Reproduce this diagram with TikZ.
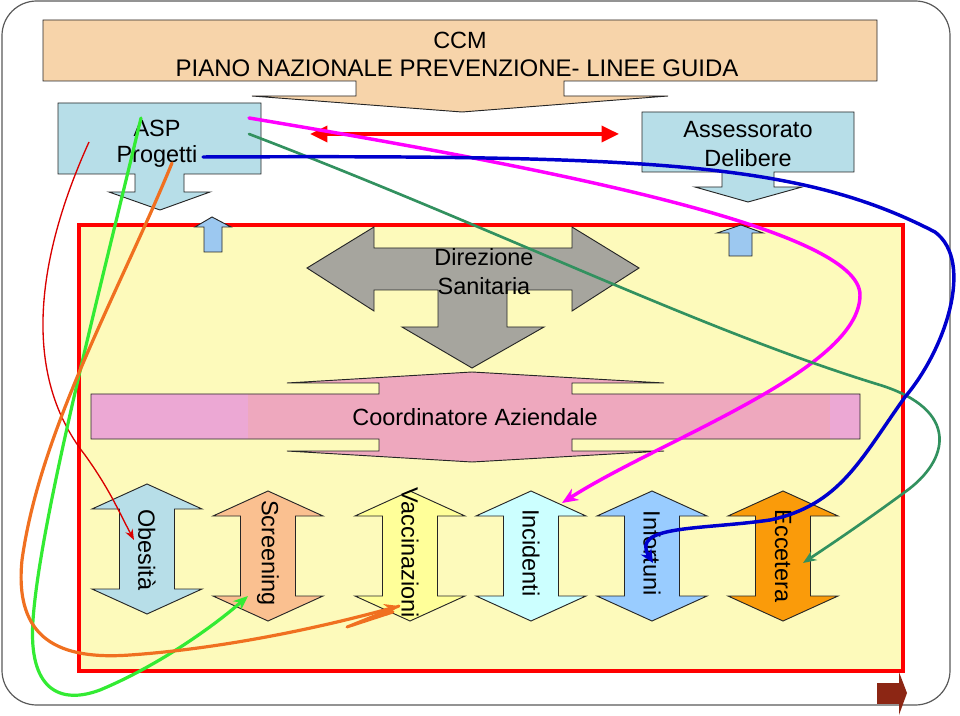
\documentclass[tikz,border=0pt]{standalone}
\usepackage{fontspec}
\setmainfont{Liberation Sans}
\usetikzlibrary{arrows.meta}
\definecolor{peach}{RGB}{247,212,170}
\definecolor{boxblue}{RGB}{183,222,232}
\definecolor{yellowbg}{RGB}{253,250,187}
\definecolor{upblue}{RGB}{156,200,240}
\definecolor{dirgray}{RGB}{166,165,158}
\definecolor{pinkA}{RGB}{238,168,190}
\definecolor{pinkB}{RGB}{236,168,212}
\definecolor{scrcol}{RGB}{250,192,144}
\definecolor{vaccol}{RGB}{255,255,153}
\definecolor{inccol}{RGB}{204,255,255}
\definecolor{infcol}{RGB}{153,204,255}
\definecolor{ecccol}{RGB}{250,155,10}
\definecolor{cgreen}{RGB}{51,235,51}
\definecolor{corange}{RGB}{240,112,32}
\definecolor{cmag}{RGB}{255,0,255}
\definecolor{cdgreen}{RGB}{50,145,95}
\definecolor{cblue}{RGB}{0,0,205}
\definecolor{brown}{RGB}{140,38,20}
\newcommand\lblfont{\fontsize{17.6}{21}\selectfont}
\newcommand\udarrow[3]{%
  \filldraw[shapeline, fill=#3] (#1,#2) -- ({#1+55},{#2+25}) -- ({#1+27.5},{#2+25})
    -- ({#1+27.5},{#2+105}) -- ({#1+55},{#2+105}) -- (#1,{#2+130})
    -- ({#1-55},{#2+105}) -- ({#1-27.5},{#2+105}) -- ({#1-27.5},{#2+25})
    -- ({#1-55},{#2+25}) -- cycle;}
\tikzset{
  shapeline/.style={draw=black!85, line width=0.7pt},
  lbl/.style={font=\lblfont, inner sep=0pt, align=center, text=black},
  conn/.style={line width=#1, line cap=round},
}
\begin{document}
\begin{tikzpicture}[x=0.75pt,y=-0.75pt]
\useasboundingbox (0,0) rectangle (960,716);
% outer frame
\draw[black!65, line width=0.9pt, rounded corners=26pt] (2,1) rectangle (950,705);
% CCM banner
\filldraw[shapeline, fill=peach] (43,20) -- (877,20) -- (877,81) -- (564,81) -- (564,96)
  -- (668,96) -- (462,112) -- (252,96) -- (356,96) -- (356,81) -- (43,81) -- cycle;
\node[lbl] (ccm) at (460,40) {CCM};
\node[lbl, font=\fontsize{18}{21}\selectfont] (piano) at (457,68) {PIANO NAZIONALE PREVENZIONE- LINEE GUIDA};
% ASP box
\filldraw[shapeline, fill=boxblue] (58,103) -- (261,103) -- (261,174) -- (184,174) -- (184,192)
  -- (210,192) -- (160,210) -- (109,192) -- (135,192) -- (135,174) -- (58,174) -- cycle;
\node[lbl] (asp) at (157,128) {ASP};
\node[lbl] (prog) at (157,156) {Progetti};
% Assessorato box
\filldraw[shapeline, fill=boxblue] (642,112) -- (854,112) -- (854,172) -- (774,172) -- (774,187)
  -- (802,187) -- (748,202) -- (695,187) -- (722,187) -- (722,172) -- (642,172) -- cycle;
\node[lbl] (ass) at (748,130) {Assessorato};
\node[lbl] (del) at (748,158) {Delibere};
% red double arrow
\coordinate (ra) at (310,134);
\coordinate (rb) at (619,134);
\draw[red, line width=2.6pt, {Triangle[length=13pt,width=12pt]}-{Triangle[length=13pt,width=12pt]}] (ra) -- (rb);
% big yellow frame
\filldraw[draw=red, line width=3pt, fill=yellowbg] (79,225) rectangle (903,671);
% small up arrows
\filldraw[shapeline, fill=upblue] (204,252) -- (204,227) -- (195,227) -- (212,217) -- (231,227)
  -- (222,227) -- (222,252) -- cycle;
\filldraw[shapeline, fill=upblue] (729,256) -- (729,233) -- (717,233) -- (741,225) -- (763,233)
  -- (752,233) -- (752,256) -- cycle;
% Direzione Sanitaria
\filldraw[shapeline, fill=dirgray] (307,268) -- (374,227) -- (374,248) -- (572,248) -- (572,227)
  -- (639,268) -- (572,311) -- (572,290) -- (507,290) -- (507,327) -- (544,327) -- (472,368)
  -- (402,327) -- (438,327) -- (438,290) -- (374,290) -- (374,311) -- cycle;
\node[lbl] (dir) at (484,257) {Direzione};
\node[lbl] (san) at (484,286) {Sanitaria};
% Coordinatore
\fill[pinkA] (91,394) -- (379,394) -- (379,383) -- (287,383) -- (472,372) -- (664,383)
  -- (572,383) -- (572,394) -- (860,394) -- (860,439) -- (572,439) -- (572,451) -- (664,451)
  -- (472,462) -- (287,451) -- (379,451) -- (379,439) -- (91,439) -- cycle;
\fill[pinkB] (91,394) rectangle (248,439);
\fill[pinkB] (830,394) rectangle (860,439);
\draw[shapeline] (91,394) -- (379,394) -- (379,383) -- (287,383) -- (472,372) -- (664,383)
  -- (572,383) -- (572,394) -- (860,394) -- (860,439) -- (572,439) -- (572,451) -- (664,451)
  -- (472,462) -- (287,451) -- (379,451) -- (379,439) -- (91,439) -- cycle;
\node[lbl] (coord) at (475,417) {Coordinatore Aziendale};
% vertical double arrows
\udarrow{147}{484}{boxblue}
\udarrow{268}{491}{scrcol}
\udarrow{410}{491}{vaccol}
\udarrow{531}{491}{inccol}
\udarrow{652}{491}{infcol}
\udarrow{783}{491}{ecccol}
\node[lbl, rotate=-90] (obe) at (147,550) {Obesità};
\node[lbl, rotate=-90] (scr) at (268,553) {Screening};
\node[lbl, rotate=-90] (vac) at (410,553) {Vaccinazioni};
\node[lbl, rotate=-90] (inc) at (531,553) {Incidenti};
\node[lbl, rotate=-90] (inf) at (652,553) {Infortuni};
\node[lbl, rotate=-90] (ecc) at (783,556) {Eccetera};
% connector end points
\coordinate (redS) at (89,142);
\coordinate (redE) at (134,540);
\coordinate (grnS) at (141,118);
\coordinate (grnE) at (248,596);
\coordinate (orgS) at (172,163);
\coordinate (orgE) at (399,606);
\coordinate (magS) at (249,118);
\coordinate (magE) at (562,503);
\coordinate (dgS) at (249,134);
\coordinate (dgE) at (803,563);
\coordinate (bluS) at (203,157);
\coordinate (bluE) at (653,563);
% red thin
\draw[red!85!black, line width=1pt, -{Stealth[length=8pt,width=6pt]}] (redS)
  .. controls (40,250) and (18,370) .. (85,455) .. controls (110,490) and (118,510) .. (redE);
% green
\draw[cgreen, conn=2.4pt, -{Stealth[length=11pt,width=9pt]}] (grnS)
  .. controls (100,290) and (40,520) .. (33,620) .. controls (28,690) and (60,705) .. (100,690)
  .. controls (160,665) and (215,625) .. (grnE);
% orange
\draw[corange, conn=2.4pt, -{Stealth[length=11pt,width=9pt]}] (orgS)
  .. controls (120,290) and (40,430) .. (22,560) .. controls (14,640) and (60,660) .. (130,655)
  .. controls (230,648) and (330,625) .. (orgE);
\draw[corange, conn=2.2pt, line join=round] (orgE) -- (347,627) -- (393,612);
% magenta
\draw[cmag, conn=2.6pt, -{Stealth[length=12pt,width=10pt]}] (magS)
  .. controls (560,170) and (860,230) .. (860,295) .. controls (860,370) and (660,440) .. (magE);
% dark green
\draw[cdgreen, conn=2pt, -{Stealth[length=10pt,width=8pt]}] (dgS)
  .. controls (500,230) and (700,330) .. (880,385) .. controls (960,410) and (950,460) .. (905,492)
  .. controls (860,525) and (830,545) .. (dgE);
% blue
\draw[cblue, conn=2.6pt, -{Stealth[length=10pt,width=9pt]}] (bluS)
  .. controls (650,155) and (800,162) .. (935,232) .. controls (975,262) and (945,350) .. (905,397)
  .. controls (860,460) and (840,505) .. (770,520) .. controls (700,530) and (630,525) .. (bluE);
% brown next arrow
\fill[brown] (877,683) rectangle (899,704);
\fill[brown] (899,672) -- (907,693) -- (899,715) -- cycle;
\end{tikzpicture}
\end{document}
